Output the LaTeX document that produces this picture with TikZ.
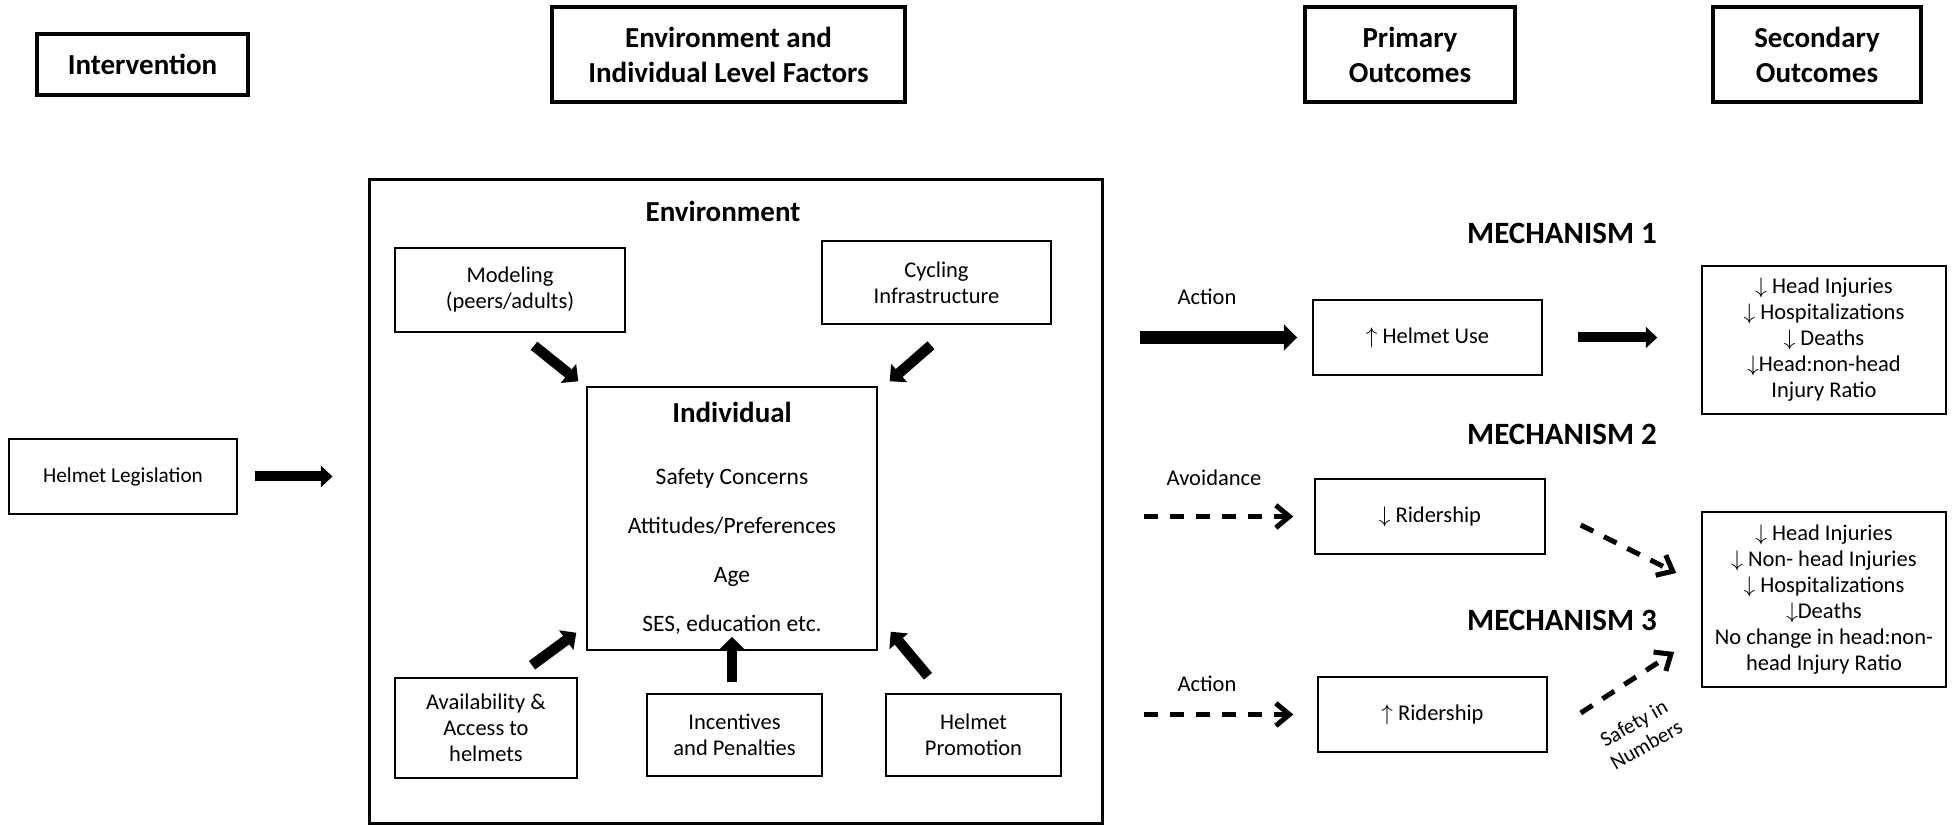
\documentclass[tikz,border=0pt]{standalone}
\usepackage{fontspec}
\setmainfont{Carlito}
\usetikzlibrary{arrows.meta,positioning,calc}

\begin{document}
\begin{tikzpicture}[x=0.4pt, y=-0.4pt, font=\fontsize{9}{10.4}\selectfont,
  box/.style={draw, line width=0.6pt, align=center, inner sep=2pt},
  head/.style={draw, line width=1.6pt, align=center, font=\bfseries\fontsize{11.6}{14}\selectfont},
  mech/.style={font=\bfseries\fontsize{12.4}{14}\selectfont},
  fat/.style={line width=4pt, -{Triangle[length=4.6pt, width=8.6pt, line width=0pt]}},
  fatter/.style={line width=5.2pt, -{Triangle[length=5.4pt, width=10.6pt, line width=0pt]}},
  fatin/.style={line width=4.2pt, -{Triangle[length=5pt, width=9.8pt, line width=0pt]}},
  dasharr/.style={line width=2pt, dash pattern=on 5.6pt off 4.8pt, -{Straight Barb[length=5.4pt, width=9pt]}}]
\useasboundingbox (0,0) rectangle (1955,825);
\node[head, minimum width=84.4pt, minimum height=24.4pt] (hint) at (142.5,64.5) {Intervention};
\node[head, minimum width=141.2pt, minimum height=38pt] (henv) at (728.5,54.5) {Environment and\\Individual Level Factors};
\node[head, minimum width=84pt, minimum height=38pt] (hprim) at (1410,54.5) {Primary\\Outcomes};
\node[head, minimum width=83.2pt, minimum height=38pt] (hsec) at (1817,54.5) {Secondary\\Outcomes};

\node[box, minimum width=91.2pt, minimum height=30pt, font=\fontsize{8.5}{10}\selectfont] (legis) at (123,476.5) {Helmet Legislation};
\node[draw, line width=1.2pt, minimum width=292.8pt, minimum height=257.2pt] (env) at (736,501.5) {};
\node[font=\bfseries\fontsize{11.6}{14}\selectfont] (envtitle) at (723,211) {Environment};
\node[box, minimum width=92pt, minimum height=33.6pt] (model) at (510,290) {Modeling\\(peers/adults)};
\node[box, minimum width=91.6pt, minimum height=33.2pt] (infra) at (936.5,282.5) {Cycling\\Infrastructure};
\node[box, minimum width=116pt, minimum height=105.2pt, font=\fontsize{9.4}{19.6}\selectfont] (indiv) at (732,518.5)
  {{\bfseries\fontsize{11.6}{14}\selectfont Individual}\\[5.2pt] Safety Concerns\\Attitudes/Preferences\\Age\\SES, education etc.};
\node[box, minimum width=72.8pt, minimum height=40pt] (avail) at (486,728) {Availability \&\\Access to\\helmets};
\node[box, minimum width=70pt, minimum height=32.8pt] (incent) at (734.5,735) {Incentives\\and Penalties};
\node[box, minimum width=70pt, minimum height=32.8pt] (promo) at (973.5,735) {Helmet\\Promotion};

\node[mech] (mech1) at (1562,233) {MECHANISM 1};
\node[mech] (mech2) at (1562,434) {MECHANISM 2};
\node[mech] (mech3) at (1562,620) {MECHANISM 3};
\node (act1) at (1207,297) {Action};
\node (avoid) at (1214,478) {Avoidance};
\node (act2) at (1207,684) {Action};
\node[box, minimum width=91.6pt, minimum height=30pt] (use) at (1427.5,337.5) {$\uparrow$ Helmet Use};
\node[box, minimum width=92pt, minimum height=30pt] (ridd) at (1430,516.5) {$\downarrow$ Ridership};
\node[box, minimum width=91.6pt, minimum height=30pt] (ridu) at (1432.5,714.5) {$\uparrow$ Ridership};
\node[box, minimum width=97.6pt, minimum height=59.2pt] (sec1) at (1824,340)
  {$\downarrow$ Head Injuries\\$\downarrow$ Hospitalizations\\$\downarrow$ Deaths\\$\downarrow$Head:non-head\\Injury Ratio};
\node[box, minimum width=97.6pt, minimum height=70pt] (sec2) at (1824,599.5)
  {$\downarrow$ Head Injuries\\$\downarrow$ Non- head Injuries\\$\downarrow$ Hospitalizations\\$\downarrow$Deaths\\No change in head:non-\\head Injury Ratio};
\node[rotate=30, align=center, font=\fontsize{8.5}{10}\selectfont] (safety) at (1640,734) {Safety in\\Numbers};

\draw[fat, shorten <=6.8pt, shorten >=14.4pt] (legis.east) -- (legis.east -| env.west);
\draw[fatin] ($(model.south)+(24,13)$) -- ($(indiv.north west)+(-8,-5)$);
\draw[fatin] ($(infra.south)+(-5.5,20.5)$) -- ($(indiv.north east)+(12,-5)$);
\draw[fatin] ($(avail.north)+(46,-12)$) -- ($(indiv.south west)+(-10,-18)$);
\draw[fatin] ($(incent.north)+(-2.5,-11)$) -- ($(indiv.south)+(0,-14)$);
\draw[fatin] ($(promo.north)+(-45.5,-17)$) -- ($(indiv.south east)+(13,-19)$);
\draw[fatter, shorten <=14.4pt, shorten >=6pt] (env.east |- use.west) -- (use.west);
\draw[fat, shorten <=14pt, shorten >=17.6pt] (use.east) -- (use.east -| sec1.west);
\draw[dasharr, shorten <=16pt, shorten >=8.4pt] (env.east |- ridd.west) -- (ridd.west);
\draw[dasharr, shorten <=16pt, shorten >=9.6pt] (env.east |- ridu.west) -- (ridu.west);
\draw[dasharr] ($(ridd.east)+(35,8.5)$) -- ($(sec2.west)+(-25,-26.5)$);
\draw[dasharr] ($(ridu.east)+(33,-1.5)$) -- ($(sec2.west)+(-27,52.5)$);
\end{tikzpicture}
\end{document}
